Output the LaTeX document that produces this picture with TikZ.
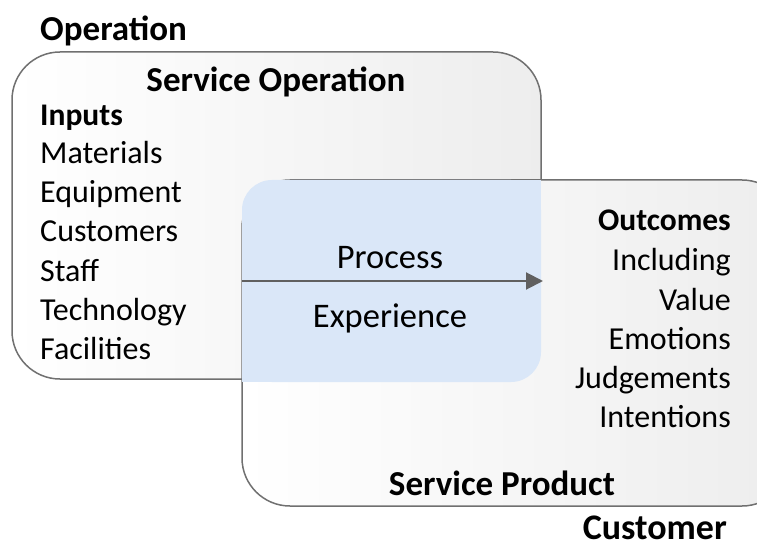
\documentclass[tikz,border=0pt]{standalone}
\usepackage{fontspec}
\setmainfont{Carlito}
\usetikzlibrary{arrows.meta}
\definecolor{edge}{HTML}{707070}
\definecolor{blueov}{HTML}{DAE7F8}
\definecolor{arr}{HTML}{606060}
\tikzset{
  box/.style={draw=edge, line width=1.5pt, rounded corners=48pt, left color=white, right color=black!7},
  txt/.style={inner sep=0pt, font=\fontsize{32}{38}\selectfont},
  big/.style={inner sep=0pt, font=\fontsize{34.5}{40}\selectfont},
  sub/.style={inner sep=0pt, font=\fontsize{31.5}{38}\selectfont\bfseries},
  hd/.style={inner sep=0pt, font=\fontsize{35}{40}\selectfont\bfseries},
}
\begin{document}
\begin{tikzpicture}[x=1pt,y=-1pt]
\useasboundingbox (0,0) rectangle (757,545);
\begin{scope}
\clip (0,0) rectangle (757,545);
\path[box] (12,52) rectangle (541,379);
\path[box] (242,180) rectangle (790,506);
\fill[blueov, rounded corners=30pt] (242,180) rectangle (541,382);
\fill[blueov] (500,180) rectangle (541,220);
\fill[blueov] (242,340) rectangle (282,382);
\end{scope}
\coordinate (as) at (242,281);
\coordinate (ae) at (543,281);
\draw[arr, line width=2pt, -{Triangle[length=17pt,width=17pt]}] (as) -- (ae);
% texts
\node[hd, anchor=base west] (op) at (40,41) {Operation};
\node[hd, anchor=base] (so) at (276,92) {Service Operation};
\node[sub, anchor=base west] (in) at (40,126) {Inputs};
\node[txt, anchor=base west] (i1) at (40,164) {Materials};
\node[txt, anchor=base west] (i2) at (40,203) {Equipment};
\node[txt, anchor=base west] (i3) at (40,242) {Customers};
\node[txt, anchor=base west] (i4) at (40,281) {Staff};
\node[txt, anchor=base west] (i5) at (40,320) {Technology};
\node[txt, anchor=base west] (i6) at (40,359) {Facilities};
\node[big, anchor=base] (pr) at (390,269) {Process};
\node[big, anchor=base] (ex) at (390,327) {Experience};
\node[sub, anchor=base east] (oc) at (731,231) {Outcomes};
\node[txt, anchor=base east] (o1) at (731,270) {Including};
\node[txt, anchor=base east] (o2) at (731,310) {Value};
\node[txt, anchor=base east] (o3) at (731,349) {Emotions};
\node[txt, anchor=base east] (o4) at (731,388) {Judgements};
\node[txt, anchor=base east] (o5) at (731,427) {Intentions};
\node[hd, anchor=base] (sp) at (502,495) {Service Product};
\node[hd, font=\fontsize{36}{40}\selectfont\bfseries, anchor=base east] (cu) at (727,539) {Customer};
\end{tikzpicture}
\end{document}
